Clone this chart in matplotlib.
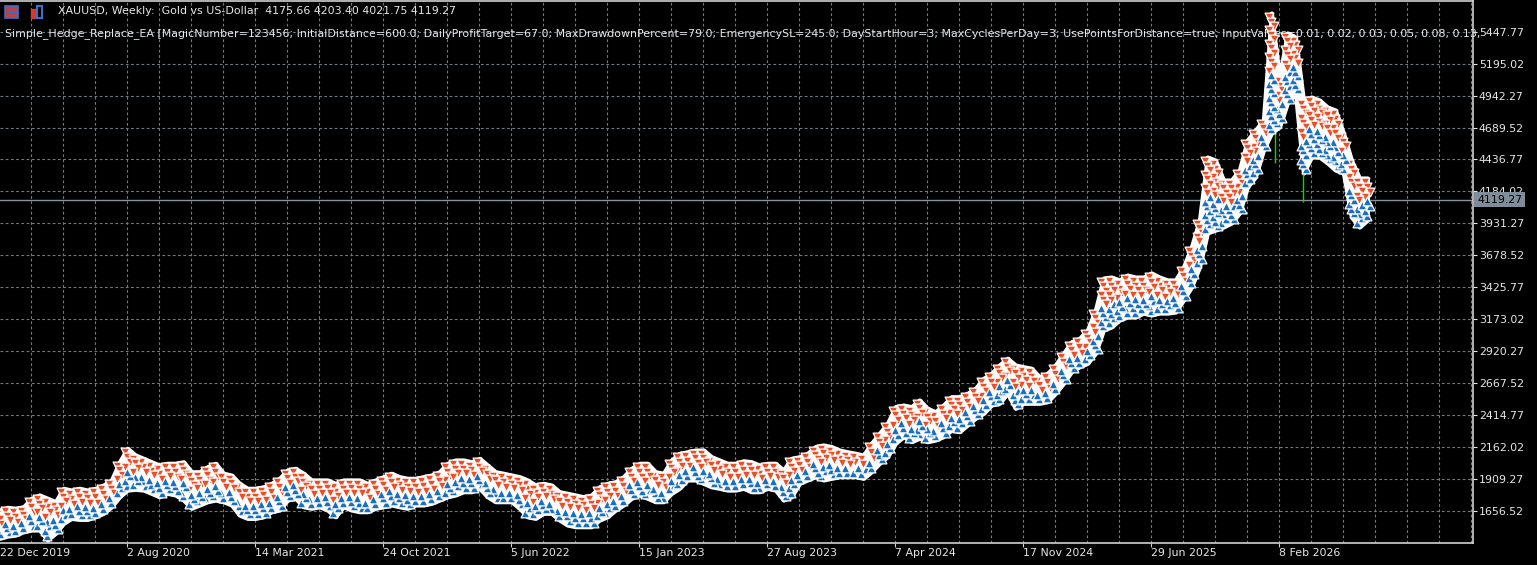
import numpy as np
import matplotlib.pyplot as plt
from matplotlib.patches import Rectangle
from matplotlib.transforms import blended_transform_factory

# band of trade arrows, read every 2 weeks from 22 Dec 2019 (top / bottom, USD)
band_hi = [1662, 1683, 1676, 1688, 1755, 1781, 1755, 1728, 1834, 1820,
           1834, 1820, 1834, 1860, 1900, 2044, 2150, 2097, 2071, 2044,
           2018, 2032, 2032, 2044, 1965, 1965, 2005, 2032, 1953, 1939,
           1873, 1834, 1834, 1846, 1873, 1913, 1979, 1992, 1953, 1900,
           1900, 1900, 1873, 1900, 1900, 1900, 1873, 1900, 1926, 1953,
           1926, 1913, 1913, 1926, 1939, 1965, 2032, 2058, 2058, 2044,
           2071, 2018, 1965, 1953, 1939, 1926, 1900, 1860, 1873, 1860,
           1807, 1794, 1781, 1767, 1781, 1846, 1873, 1886, 1926, 1992,
           2032, 2032, 1965, 1953, 2058, 2111, 2123, 2137, 2137, 2084,
           2058, 2032, 2032, 2052, 2044, 2018, 2032, 2032, 1979, 2071,
           2084, 2111, 2164, 2177, 2164, 2137, 2123, 2111, 2097, 2190,
           2269, 2348, 2480, 2493, 2480, 2533, 2467, 2440, 2493, 2559,
           2559, 2586, 2625, 2704, 2744, 2810, 2863, 2810, 2796, 2784,
           2717, 2744, 2810, 2902, 2994, 3021, 3087, 3245, 3498, 3506,
           3483, 3522, 3506, 3506, 3538, 3506, 3483, 3483, 3585, 3744,
           3957, 4456, 4432, 4274, 4274, 4353, 4591, 4670, 4749, 5596,
           5089, 5438, 5406, 4907, 4931, 4907, 4852, 4828, 4646, 4432,
           4290, 4290]
band_lo = [1438, 1456, 1464, 1490, 1504, 1504, 1425, 1478, 1557, 1596,
           1588, 1588, 1609, 1636, 1688, 1767, 1820, 1826, 1820, 1794,
           1767, 1794, 1781, 1741, 1676, 1702, 1728, 1741, 1728, 1702,
           1622, 1596, 1596, 1609, 1649, 1662, 1741, 1755, 1688, 1676,
           1688, 1662, 1609, 1688, 1662, 1649, 1649, 1676, 1688, 1702,
           1688, 1676, 1702, 1702, 1715, 1741, 1767, 1781, 1807, 1807,
           1834, 1767, 1728, 1728, 1728, 1676, 1609, 1596, 1636, 1636,
           1583, 1543, 1530, 1530, 1530, 1583, 1609, 1662, 1702, 1755,
           1781, 1755, 1728, 1728, 1794, 1834, 1900, 1900, 1873, 1846,
           1834, 1820, 1820, 1834, 1807, 1807, 1834, 1820, 1741, 1767,
           1873, 1900, 1926, 1900, 1913, 1926, 1926, 1926, 1913, 1965,
           2032, 2084, 2190, 2243, 2203, 2230, 2203, 2216, 2243, 2295,
           2282, 2335, 2388, 2427, 2493, 2507, 2586, 2467, 2507, 2507,
           2507, 2519, 2586, 2665, 2757, 2796, 2823, 2902, 3087, 3111,
           3166, 3190, 3190, 3221, 3206, 3221, 3221, 3229, 3324, 3427,
           3585, 3855, 3878, 3902, 3934, 4013, 4219, 4298, 4511, 4646,
           4694, 4884, 4963, 4329, 4456, 4456, 4409, 4353, 4329, 3981,
           3902, 3957]
assert len(band_hi) == len(band_lo)
weeks = np.arange(len(band_hi)) * 2

price_ticks = [1656.52, 1909.27, 2162.02, 2414.77, 2667.52, 2920.27, 3173.02, 3425.77,
               3678.52, 3931.27, 4184.02, 4436.77, 4689.52, 4942.27, 5195.02, 5447.77]
date_weeks = [0, 32, 64, 96, 128, 160, 192, 224, 256, 288, 320]
date_labels = ["22 Dec 2019", "2 Aug 2020", "14 Mar 2021", "24 Oct 2021", "5 Jun 2022",
               "15 Jan 2023", "27 Aug 2023", "7 Apr 2024", "17 Nov 2024", "29 Jun 2025",
               "8 Feb 2026"]
last_price = 4119.27
wick_weeks = [319, 326]
wick_top = [4646, 4329]
wick_bottom = [4409, 4100]

title_1 = "XAUUSD, Weekly:  Gold vs US-Dollar  4175.66 4203.40 4021.75 4119.27"
title_2 = ("Simple_Hedge_Replace_EA [MagicNumber=123456; InitialDistance=600.0; "
           "DailyProfitTarget=67.0; MaxDrawdownPercent=79.0; EmergencySL=245.0; "
           "DayStartHour=3; MaxCyclesPerDay=3; UsePointsForDistance=true; "
           "InputValues=0.01, 0.02, 0.03, 0.05, 0.08, 0.13,")

RED = "#ea4f28"
BLUE = "#1b6fbf"
GRID = "#6b7a89"
FG = "#e6e6e6"
FS = 7.95

W, H = 1537, 565
fig = plt.figure(figsize=(W / 100, H / 100), dpi=100, facecolor="black")
ax = fig.add_axes([0, 22.5 / H, 1473 / W, 542 / H])
ax.set_facecolor("black")
ax.set_xlim(0.125, 368.4)
ax.set_ylim(1405, 5695)

# grid
for w in range(8, 369, 8):
    ax.axvline(w, color=GRID, lw=0.8, ls=(0, (2.5, 2.2)), zorder=1)
for p in price_ticks:
    ax.axhline(p, color=GRID, lw=0.8, ls=(0, (2.5, 2.2)), zorder=1)

# current price line
ax.axhline(last_price, color="#8593a1", lw=1.0, zorder=2)

# white halo of the arrows
ax.fill_between(weeks, band_lo, band_hi, color="white", lw=3, edgecolor="white", zorder=3)

# stacked arrows: sells (red, down) on the upper half, buys (blue, up) on the lower half
rx, ry, bx, by = [], [], [], []
step, inset = 36, 32
shift = np.array([-0.6, 0.0, 0.6])
for w, h, l in zip(weeks, band_hi, band_lo):
    n = max(2, int(round((h - l - 2 * inset) / step)) + 1)
    lv = np.linspace(h - inset, l + inset, n)
    offs = shift[np.arange(n) % 3]
    mid = (h + l) / 2
    up = lv >= mid
    rx.extend(w + offs[up]); ry.extend(lv[up])
    bx.extend(w + offs[~up]); by.extend(lv[~up])
rx, ry, bx, by = map(np.asarray, (rx, ry, bx, by))
o = np.argsort(-ry)
ax.scatter(rx[o], ry[o], marker="v", s=40, color=RED, edgecolor="white", linewidth=0.9, zorder=5)
o = np.argsort(by)
ax.scatter(bx[o], by[o], marker="^", s=40, color=BLUE, edgecolor="white", linewidth=0.9, zorder=5)

ax.vlines(wick_weeks, wick_bottom, wick_top, color="#00e000", lw=1.0, zorder=4)

# axes
ax.spines["left"].set_visible(False)
for side in ["right", "bottom", "top"]:
    ax.spines[side].set_color("#d0d0d0")
    ax.spines[side].set_linewidth(1.2)
ax.yaxis.tick_right()
ax.set_yticks(price_ticks)
ax.set_yticklabels([f"{p:.2f}" for p in price_ticks])
ax.tick_params(axis="y", colors=FG, labelsize=FS, length=3, width=0.8, pad=1.2)
ax.set_xticks(date_weeks[1:])
ax.set_xticklabels([])
ax.tick_params(axis="x", colors="#d0d0d0", length=3, width=0.8)

tr = blended_transform_factory(ax.transData, ax.transAxes)
for w, lab in zip(date_weeks, date_labels):
    ax.text(max(w, 0.125), -0.010, lab, transform=tr, ha="left", va="top",
            color=FG, fontsize=FS, clip_on=False)

# price box on the axis
ax.text(1.0028, last_price, "4119.27",
        transform=blended_transform_factory(ax.transAxes, ax.transData),
        ha="left", va="center", color="black", fontsize=FS, zorder=10,
        bbox=dict(boxstyle="square,pad=0.25", facecolor="#7f8d9b", edgecolor="none"))

# header texts
ax.text(58 / 1473, 1 - 11 / 542, title_1, transform=ax.transAxes, ha="left", va="center",
        color=FG, fontsize=FS, zorder=2)
ax.text(5 / 1473, 1 - 33 / 542, title_2, transform=ax.transAxes, ha="left", va="center",
        color=FG, fontsize=7.88, zorder=2)

# two small toolbar icons at the top left
fig.patches.append(Rectangle((5, H - 18), 13, 12, transform=None, facecolor="#d23a2c",
                             edgecolor="#3a6fd0", lw=1.2))
for yy in (H - 9, H - 12, H - 15):
    fig.lines.append(plt.Line2D([8, 16], [yy, yy], transform=None, color="#3a6fd0", lw=1))
fig.patches.append(Rectangle((31, H - 18), 5, 9, transform=None, facecolor="#d23a2c",
                             edgecolor="#d23a2c", lw=1))
fig.patches.append(Rectangle((37, H - 18), 5, 12, transform=None, facecolor="none",
                             edgecolor="#3a6fd0", lw=1.5))

fig.savefig("out.png", dpi=100, facecolor="black")
